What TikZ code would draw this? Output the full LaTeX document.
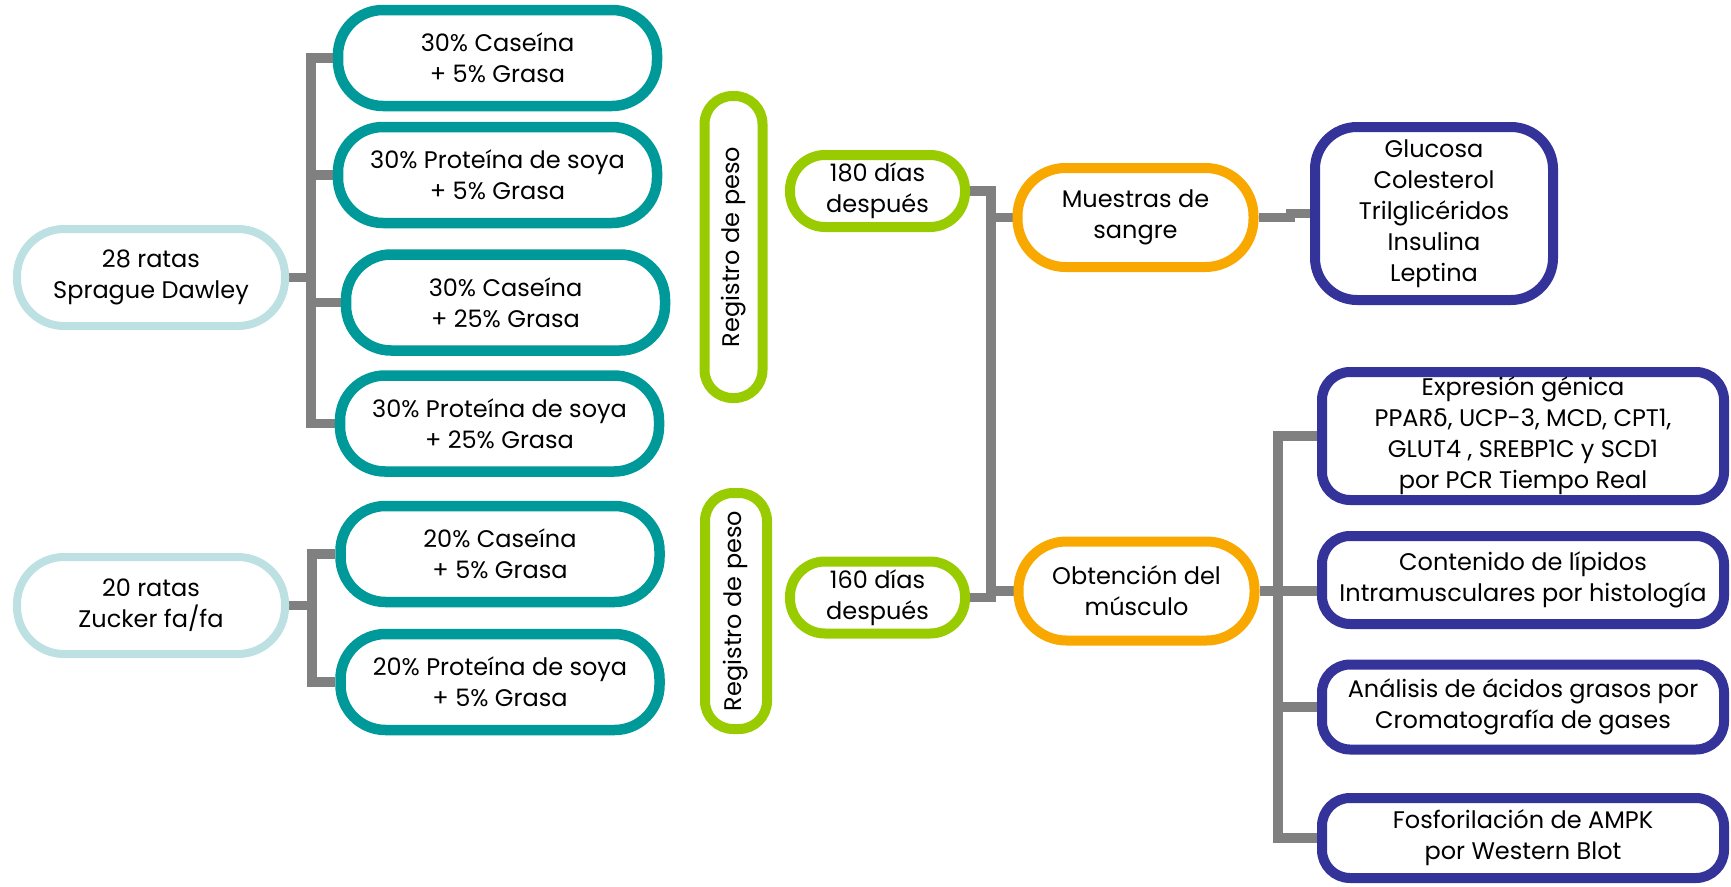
\documentclass[tikz,border=0pt]{standalone}
\usepackage{fontspec}
\setmainfont{Poppins}
\newfontfamily\greekfont{DejaVu Sans}
\definecolor{cteal}{HTML}{009999}
\definecolor{clblue}{HTML}{BDE0E3}
\definecolor{cgreen}{HTML}{99CC00}
\definecolor{corange}{HTML}{F9A800}
\definecolor{cnavy}{HTML}{333399}
\definecolor{cgray}{HTML}{808080}
\pgfdeclarelayer{bg}
\pgfsetlayers{bg,main}
\begin{document}
\begin{tikzpicture}[x=1pt,y=-1pt,
  box/.style={draw, fill=white, align=center, inner sep=0pt, text=black,
    font=\fontsize{24}{31}\selectfont},
  ratbox/.style={box, draw=clblue, line width=8pt, minimum width=268pt, minimum height=97pt, rounded corners=47pt},
  dietbox/.style={box, draw=cteal, line width=10.5pt, minimum width=319pt, minimum height=96pt, rounded corners=45pt},
  regbox/.style={box, draw=cgreen, line width=10pt, rotate=90, minimum height=58pt, rounded corners=28pt},
  daybox/.style={box, draw=cgreen, line width=10pt, minimum width=175pt, minimum height=72pt, rounded corners=35pt},
  sampbox/.style={box, draw=corange, line width=10pt, minimum width=236pt, minimum height=99pt, rounded corners=48pt},
  resbox/.style={box, draw=cnavy, line width=10pt, minimum width=402pt, rounded corners=28pt},
  conn/.style={draw=cgray, line width=9.5pt}
]
\useasboundingbox (0,0) rectangle (1731,886);

% left groups
\node[ratbox] (r28) at (151,277.5) {28 ratas\\Sprague Dawley};
\node[ratbox] (r20) at (151,605.5) {20 ratas\\Zucker fa/fa};
\node[dietbox] (t1) at (497.5,58) {30\% Caseína\\+ 5\% Grasa};
\node[dietbox] (t2) at (497.5,175) {30\% Proteína de soya\\+ 5\% Grasa};
\node[dietbox] (t3) at (505.5,302.5) {30\% Caseína\\+ 25\% Grasa};
\node[dietbox] (t4) at (499.5,423.5) {30\% Proteína de soya\\+ 25\% Grasa};
\node[dietbox] (t5) at (500,554) {20\% Caseína\\+ 5\% Grasa};
\node[dietbox] (t6) at (500,682) {20\% Proteína de soya\\+ 5\% Grasa};

% weight records
\node[regbox, minimum width=302pt] (reg1) at (733.5,247) {Registro de peso};
\node[regbox, minimum width=236pt, minimum height=62pt] (reg2) at (736,611) {Registro de peso};

% days
\node[daybox] (d180) at (877.5,191) {180 días\\después};
\node[daybox] (d160) at (877.5,597.5) {160 días\\después};

% samples
\node[sampbox] (mues) at (1135.5,217.5) {Muestras de\\sangre};
\node[sampbox] (obt) at (1136.5,591) {Obtención del\\músculo};

% results
\node[resbox, minimum width=238pt, minimum height=173pt, rounded corners=42pt] (glu) at (1434,213.5)
  {Glucosa\\Colesterol\\Trilglicéridos\\Insulina\\Leptina};
\node[resbox, minimum height=128pt] (exp) at (1523,436)
  {Expresión génica\\PPAR{\greekfont δ}, UCP-3, MCD, CPT1,\\GLUT4 , SREBP1C y SCD1\\ por PCR Tiempo Real};
\node[resbox, minimum height=88pt] (con) at (1523,580)
  {Contenido de lípidos\\Intramusculares por histología};
\node[resbox, minimum height=85pt] (ana) at (1523,707)
  {Análisis de ácidos grasos por\\Cromatografía de gases};
\node[resbox, minimum height=80pt] (fos) at (1523,838)
  {Fosforilación de AMPK\\por Western Blot};

\begin{pgfonlayer}{bg}
  % 28 ratas group
  \coordinate (b1) at (311,0);
  \draw[conn] (r28.east) -- (b1 |- r28.east);
  \draw[conn] (t1.west) -- (b1 |- t1.west) -- (b1 |- t4.west) -- (t4.west);
  \draw[conn] (b1 |- t2.west) -- (t2.west);
  \draw[conn] (b1 |- t3.west) -- (t3.west);
  % 20 ratas group
  \coordinate (b2) at (312,0);
  \draw[conn] (r20.east) -- (b2 |- r20.east);
  \draw[conn] (t5.west) -- (b2 |- t5.west) -- (b2 |- t6.west) -- (t6.west);
  % middle
  \coordinate (b3) at (991,0);
  \draw[conn] (d180.east) -- (b3 |- d180.east) -- (b3 |- d160.east) -- (d160.east);
  \draw[conn] (b3 |- mues.west) -- (mues.west);
  \draw[conn] (b3 |- obt.west) -- (obt.west);
  % blood
  \draw[conn] (mues.east) -- ++(32,0) |- (glu.west);
  % muscle
  \coordinate (b4) at (1278,0);
  \draw[conn] (obt.east) -- (b4 |- obt.east);
  \draw[conn] (exp.west) -- (b4 |- exp.west) -- (b4 |- fos.west) -- (fos.west);
  \draw[conn] (b4 |- obt.east) -- (con.west |- obt.east);
  \draw[conn] (b4 |- ana.west) -- (ana.west);
\end{pgfonlayer}
\end{tikzpicture}
\end{document}
